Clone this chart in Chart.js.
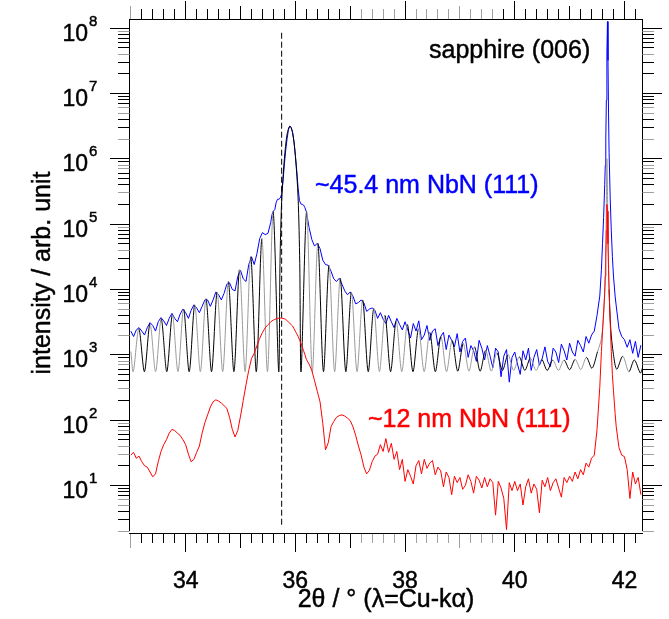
<!DOCTYPE html>
<html><head><meta charset="utf-8">
<script src="https://cdn.jsdelivr.net/npm/chart.js@4/dist/chart.umd.min.js"></script>
<style>html,body{margin:0;padding:0;background:#fff;overflow:hidden}#wrap{width:669px;height:619px;position:relative}</style>
</head><body><div id="wrap"><canvas id="c" width="669" height="619"></canvas></div>
<script>
// 2theta grid of the measured scans (deg)
const theta = [
 33.00,33.05,33.10,33.15,33.20,33.25,33.30,33.35,33.40,33.45,
 33.50,33.55,33.60,33.65,33.70,33.75,33.80,33.85,33.90,33.95,
 34.00,34.05,34.10,34.15,34.20,34.25,34.30,34.35,34.40,34.45,
 34.50,34.55,34.60,34.65,34.70,34.75,34.80,34.85,34.90,34.95,
 35.00,35.05,35.10,35.15,35.20,35.25,35.30,35.35,35.40,35.45,35.50,35.55,
 35.575,35.600,35.625,35.650,35.675,35.700,35.725,35.750,35.775,35.800,
 35.825,35.850,35.875,35.900,35.925,35.950,35.975,36.000,36.025,36.050,
 36.075,36.100,36.125,36.150,36.175,36.200,
 36.25,36.30,36.35,36.40,36.45,36.50,36.55,36.60,36.65,36.70,36.75,36.80,36.85,36.90,36.95,
 37.00,37.05,37.10,37.15,37.20,37.25,37.30,37.35,37.40,37.45,
 37.50,37.55,37.60,37.65,37.70,37.75,37.80,37.85,37.90,37.95,
 38.00,38.05,38.10,38.15,38.20,38.25,38.30,38.35,38.40,38.45,
 38.50,38.55,38.60,38.65,38.70,38.75,38.80,38.85,38.90,38.95,
 39.00,39.05,39.10,39.15,39.20,39.25,39.30,39.35,39.40,39.45,
 39.50,39.55,39.60,39.65,39.70,39.75,39.80,39.85,39.90,39.95,
 40.00,40.05,40.10,40.15,40.20,40.25,40.30,40.35,40.40,40.45,
 40.50,40.55,40.60,40.65,40.70,40.75,40.80,40.85,40.90,40.95,
 41.00,41.05,41.10,41.15,41.20,41.25,41.30,41.35,41.40,41.45,41.50,
 41.55,41.58,41.60,41.62,41.64,41.65,41.66,41.67,41.68,41.69,41.70,41.71,41.72,41.74,41.76,41.78,41.80,41.83,41.85,
 41.90,41.95,42.00,42.05,42.10,42.15,42.20,42.25,42.30
];
// ~45.4 nm NbN (111), measured (blue)
const blueCounts = [
 2300,1900,2400,2600,2300,2000,2600,3100,2800,2300,
 3200,3700,3300,2800,3600,4300,3600,3200,4200,5000,
 4400,3600,4800,5800,5200,4400,5500,6900,6900,5500,
 6900,9100,8300,6900,8700,12000,12600,10000,9500,15800,
 19500,14500,13200,24000,31600,24000,35500,60000,74000,69000,72000,105000,
 141000,158000,166000,214000,240000,240000,251000,288000,457000,832000,
 1380000,2040000,2820000,3160000,3020000,2510000,1820000,1120000,661000,355000,
 229000,204000,200000,195000,178000,155000,
 89000,58000,46000,51000,42000,28000,24000,23400,19000,14500,13200,14800,12000,9500,8300,
 9100,7900,6000,6300,6900,6200,4600,5000,5200,4800,
 3600,4400,3500,3000,4000,3200,2600,3600,2900,2400,
 3200,2400,1800,3000,2300,3300,1700,2000,2800,1660,
 2300,2500,1380,1900,2200,1200,2000,1660,1320,2100,
 1100,1600,1800,910,1380,1150,790,1660,1260,830,
 1380,950,630,1260,1100,460,950,1200,380,910,
 1100,720,500,1150,830,1260,575,910,1200,690,
 870,1320,790,660,1260,1100,760,1450,1150,830,
 1500,1100,950,1660,1380,1100,1900,1500,2000,2300,4000,
 7900,20000,50000,126000,400000,790000,2000000,7900000,40000000,126000000,32000000,5000000,1260000,251000,79000,32000,16000,7900,5600,
 2500,1900,1700,1300,1700,1050,1600,910,1400
];
// ~12 nm NbN (111), measured (red)
const redCounts = [
 29,32,26,28,23,20,19,16,13.5,15,
 23,33,42,50,63,72,69,63,58,50,
 42,30,23,25,32,40,63,91,120,158,
 190,204,195,182,166,151,110,72,55,69,
 115,200,347,575,871,1050,1380,1780,2190,2570,2880,3160,
 3310,3390,3470,3550,3590,3630,3630,3630,3590,3550,
 3470,3310,3160,3020,2880,2750,2510,2290,2090,1910,
 1700,1510,1320,1150,1000,850,
 720,575,400,275,190,89,35,45,79,95,110,117,120,115,107,
 98,79,58,40,29,19,15,17,23,28,
 30,42,33,52,32,44,25,33,17.4,25,
 11.5,17.4,13.8,10.5,20,24,15,25,18.2,21.9,
 24,14.5,19,16.6,9.5,16,13.2,7.2,13.8,11,
 13.2,8.7,10,14.5,11.5,7.6,13.8,12,9.1,13.2,
 9.5,12.6,11,3.5,11.5,9.1,6.3,2.1,11,8.3,
 11.5,8.3,10.5,5.0,9.5,12.6,7.6,10.5,8.7,3.8,
 12,9.5,13.2,8.3,11,12.6,9.1,6.6,13.2,11,
 13.8,11.5,16,12.6,17.4,14.5,21.9,19,26,29,71,
 316,1120,2240,4470,8900,15800,31600,79000,200000,158000,50000,20000,10000,3160,1120,500,282,126,79,
 38,29,27.5,17.4,6.3,16,10.5,13.2,7.2
];
// simulated curve with thickness fringes (black / grey)
const simTheta = [
 33.000,33.044,33.146,33.248,33.350,33.452,33.554,33.656,33.758,33.860,
 33.962,34.064,34.166,34.268,34.370,34.472,34.574,34.676,34.778,34.880,
 34.982,35.084,35.186,35.288,35.390,35.492,35.594,35.696,35.720,35.750,
 35.800,35.850,35.900,35.950,36.000,36.050,36.080,36.104,36.206,36.308,
 36.410,36.512,36.614,36.716,36.818,36.920,37.022,37.124,37.226,37.328,
 37.430,37.532,37.634,37.736,37.838,37.940,38.042,38.144,38.246,38.348,
 38.450,38.552,38.654,38.756,38.858,38.960,39.062,39.164,39.266,39.368,
 39.470,39.572,39.674,39.776,39.878,39.980,40.082,40.184,40.286,40.388,
 40.490,40.592,40.694,40.796,40.898,41.000,41.102,41.204,41.306,41.408,
 41.510,41.580,41.630,41.660,41.680,41.700,41.720,41.750,41.800,41.860,
 41.970,42.080,42.180,42.290,42.330
];
const simCounts = [
 1120,550,2500,550,3000,550,3550,550,4100,550,
 5000,550,5800,550,7200,550,9100,550,13200,550,
 20000,550,31600,550,60000,550,155000,550,25000,224000,
 1000000,2400000,3160000,2500000,1120000,251000,25000,550,155000,550,
 51000,550,23400,550,14800,550,9100,550,6900,550,
 5100,550,4000,550,3300,550,2900,550,2500,550,
 2200,550,1900,550,1660,560,1480,560,1320,560,
 1170,560,1070,575,1000,575,930,575,890,575,
 850,575,830,575,830,590,850,590,910,620,
 1120,1780,5600,40000,1000000,79000,10000,2500,1000,600,
 950,550,830,525,630
];
const markerTheta = 35.75;           // dashed reference line
const markerRange = [8.5e7, 2.3];
const xTickLabels = ['34', '36', '38', '40', '42'];
const yDecades = [1, 2, 3, 4, 5, 6, 7, 8];
const xTitle = '2θ / ° (λ=Cu-kα)';
const yTitle = 'intensity / arb. unit';
const notes = [
  {text: 'sapphire (006)', color: '#000000', x: 429, y: 58},
  {text: '~45.4 nm NbN (111)', color: '#0000ff', x: 315, y: 193},
  {text: '~12 nm NbN (111)', color: '#ff0000', x: 368, y: 427}
];

const FONT = '"Liberation Sans", Arial, Helvetica, sans-serif';
const toXY = (xs, ys) => xs.map((x, i) => ({x: x, y: ys[i]}));

function heavyText(ctx, s, x, y, color) {
  ctx.fillStyle = color; ctx.strokeStyle = color; ctx.lineWidth = 0.45;
  ctx.fillText(s, x, y); ctx.strokeText(s, x, y);
}

const axisFrame = {
  id: 'axisFrame',
  afterDraw(chart) {
    const ctx = chart.ctx, a = chart.chartArea, xs = chart.scales.x, ys = chart.scales.y;
    const L = a.left, R = a.right, T = a.top, B = a.bottom, bx = B + 2;
    ctx.save();
    const seg = (x1, y1, x2, y2, c) => { ctx.lineWidth = 1; ctx.strokeStyle = c; ctx.beginPath(); ctx.moveTo(x1, y1); ctx.lineTo(x2, y2); ctx.stroke(); };
    seg(L - 0.5, T, L - 0.5, B, '#000');
    seg(R + 0.5, T, R + 0.5, B, '#000');
    seg(L - 1, T + 0.5, R + 1, T + 0.5, '#000');
    seg(L - 1, bx + 0.5, R + 1, bx + 0.5, '#000');
    for (let k = 0; k <= 8; k++) for (let m = 1; m <= 9; m++) {
      const v = m * Math.pow(10, k);
      if (v < ys.min * 0.999 || v > ys.max) continue;
      const p = ys.getPixelForValue(v);
      const row = Math.floor(p), f = p - row;
      const c = (m === 1 || (f > 0.2 && f < 0.8)) ? '#000' : '#a0a0a0';
      const len = m === 1 ? 19 : 11;
      seg(L - 1 - len, row + 0.5, L - 0.5, row + 0.5, c);
      seg(R + 0.5, row + 0.5, R + 1 + len, row + 0.5, c);
    }
    for (let i = 0; i <= 50; i++) {
      const v = 33 + i * 0.2;
      if (v > xs.max) break;
      const p = xs.getPixelForValue(v);
      const col = Math.floor(p), f = p - col;
      const kind = (i % 10 === 5) ? 2 : (i % 5 === 0 ? 1 : 0);
      const c = (kind === 2 || (f > 0.2 && f < 0.8)) ? '#000' : '#a0a0a0';
      const up = [10, 13, 18][kind], dn = [9, 14, 18][kind];
      seg(col + 0.5, T, col + 0.5, T - up, c);
      seg(col + 0.5, bx + 1, col + 0.5, bx + 1 + dn, c);
    }
    ctx.textBaseline = 'alphabetic';
    ctx.font = '23px ' + FONT;
    ctx.textAlign = 'center';
    xTickLabels.forEach(s => heavyText(ctx, s, xs.getPixelForValue(parseFloat(s)), 588, '#000'));
    yDecades.forEach(k => {
      const p = ys.getPixelForValue(Math.pow(10, k));
      ctx.font = '23px ' + FONT; ctx.textAlign = 'right';
      heavyText(ctx, '10', 88, p + 12.5, '#000');
      ctx.font = '15px ' + FONT; ctx.textAlign = 'left';
      heavyText(ctx, String(k), 89, p - 2.5, '#000');
    });
    ctx.font = '25px ' + FONT; ctx.textAlign = 'center';
    heavyText(ctx, xTitle, (L + R) / 2, 607, '#000');
    ctx.save(); ctx.translate(50, (T + B) / 2 - 2); ctx.rotate(-Math.PI / 2);
    heavyText(ctx, yTitle, 0, 0, '#000'); ctx.restore();
    ctx.font = '25px ' + FONT; ctx.textAlign = 'left';
    notes.forEach(n => heavyText(ctx, n.text, n.x, n.y, n.color));
    ctx.restore();
  }
};

new Chart(document.getElementById('c'), {
  type: 'scatter',
  data: { datasets: [
    { label: 'marker', data: [{x: markerTheta, y: markerRange[0]}, {x: markerTheta, y: markerRange[1]}],
      showLine: true, borderColor: '#000', borderWidth: 1, borderDash: [6, 3], pointRadius: 0 },
    { label: '~12 nm NbN (111)', data: toXY(theta, redCounts), showLine: true,
      borderColor: '#ff0000', borderWidth: 1, pointRadius: 0 },
    { label: 'simulation', data: toXY(simTheta, simCounts), showLine: true, borderWidth: 1,
      pointRadius: 0, tension: 0.3, borderColor: '#000',
      segment: { borderColor: c => {
        const xm = (c.p0.parsed.x + c.p1.parsed.x) / 2;
        const n = Math.abs(Math.round((xm - 35.9) / 0.204));
        return (n === 0 || n % 2 === 1) ? '#000000' : '#9a9a9a';
      } } },
    { label: '~45.4 nm NbN (111)', data: toXY(theta, blueCounts), showLine: true,
      borderColor: '#0000ff', borderWidth: 1, pointRadius: 0 }
  ]},
  options: {
    responsive: false, animation: false, devicePixelRatio: 1, events: [],
    layout: { padding: { left: 0, right: 27, top: 19, bottom: 0 } },
    plugins: { legend: { display: false }, tooltip: { enabled: false } },
    scales: {
      x: { type: 'linear', min: 32.985, max: 42.32,
           ticks: { display: false }, grid: { display: false }, border: { display: false },
           afterFit(s) { s.height = 88; } },
      y: { type: 'logarithmic', min: 2.0, max: 1.38e8,
           ticks: { display: false }, grid: { display: false }, border: { display: false },
           afterFit(s) { s.width = 130; } }
    }
  },
  plugins: [axisFrame]
});
</script>
</body></html>
